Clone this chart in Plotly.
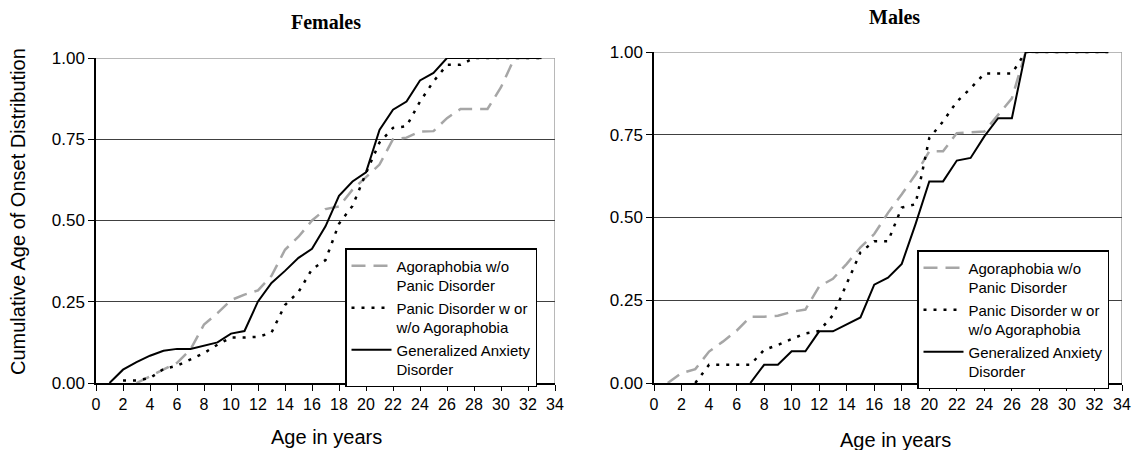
import plotly.graph_objects as go

# ---------------- data ----------------
f_agora_age = list(range(3, 34))
f_agora = [0.0, 0.02, 0.041, 0.062, 0.103, 0.18, 0.215, 0.255, 0.272, 0.285, 0.33, 0.41, 0.45,
           0.5, 0.535, 0.543, 0.595, 0.635, 0.672, 0.75, 0.755, 0.774, 0.775, 0.815, 0.843,
           0.843, 0.843, 0.91, 1.0, 1.0, 1.0]
f_panic_age = list(range(2, 34))
f_panic = [0.008, 0.008, 0.015, 0.043, 0.053, 0.072, 0.092, 0.118, 0.14, 0.14, 0.142, 0.155,
           0.24, 0.28, 0.35, 0.378, 0.49, 0.545, 0.646, 0.74, 0.785, 0.79, 0.866, 0.928,
           0.979, 0.979, 1.0, 1.0, 1.0, 1.0, 1.0, 1.0]
f_gad_age = list(range(1, 34))
f_gad = [0.0, 0.041, 0.064, 0.084, 0.099, 0.105, 0.105, 0.115, 0.125, 0.152, 0.16, 0.251,
         0.308, 0.345, 0.385, 0.413, 0.482, 0.576, 0.62, 0.648, 0.779, 0.841, 0.866, 0.931,
         0.954, 1.0, 1.0, 1.0, 1.0, 1.0, 1.0, 1.0, 1.0]

m_agora_age = list(range(1, 34))
m_agora = [0.0, 0.03, 0.042, 0.095, 0.125, 0.158, 0.2, 0.2, 0.203, 0.215, 0.222, 0.292, 0.315,
           0.36, 0.41, 0.45, 0.514, 0.57, 0.63, 0.7, 0.7, 0.755, 0.757, 0.76, 0.81, 0.86,
           1.0, 1.0, 1.0, 1.0, 1.0, 1.0, 1.0]
m_panic_age = list(range(3, 34))
m_panic = [0.0, 0.055, 0.055, 0.055, 0.055, 0.1, 0.115, 0.133, 0.15, 0.157, 0.205, 0.3, 0.395,
           0.428, 0.428, 0.53, 0.54, 0.74, 0.79, 0.85, 0.89, 0.935, 0.935, 0.935, 1.0, 1.0,
           1.0, 1.0, 1.0, 1.0, 1.0]
m_gad_age = list(range(7, 34))
m_gad = [0.0, 0.055, 0.055, 0.096, 0.096, 0.156, 0.156, 0.176, 0.198, 0.297, 0.318, 0.36, 0.48,
         0.609, 0.609, 0.672, 0.68, 0.745, 0.80, 0.80, 1.0, 1.0, 1.0, 1.0, 1.0, 1.0, 1.0]

names = ["Agoraphobia w/o<br>Panic Disorder",
         "Panic Disorder w or<br>w/o Agoraphobia",
         "Generalized Anxiety<br>Disorder"]
x_ticks = list(range(0, 35, 2))
y_ticks = [0, 0.25, 0.5, 0.75, 1.0]

# ---------------- figure ----------------
W, H = 1134, 450
SANS = "Liberation Sans, Arial, sans-serif"
SERIF = "Liberation Serif, Times New Roman, serif"

styles = [dict(color="#a6a6a6", width=2.5, dash="14px,8px"),
          dict(color="black", width=2.5, dash="3px,7px"),
          dict(color="black", width=2)]

fig = go.Figure()
female = [(f_agora_age, f_agora), (f_panic_age, f_panic), (f_gad_age, f_gad)]
male = [(m_agora_age, m_agora), (m_panic_age, m_panic), (m_gad_age, m_gad)]
for i, (x, y) in enumerate(female):
    fig.add_trace(go.Scatter(x=x, y=y, mode="lines", name=names[i], line=styles[i],
                             xaxis="x", yaxis="y", legend="legend"))
for i, (x, y) in enumerate(male):
    fig.add_trace(go.Scatter(x=x, y=y, mode="lines", name=names[i], line=styles[i],
                             xaxis="x2", yaxis="y2", legend="legend2"))

def px_x(p):
    return p / W

def px_y(p):
    return 1 - p / H

axis_common = dict(showline=True, linecolor="black", linewidth=1.5, ticks="outside",
                   ticklen=6, tickcolor="black", tickwidth=1.2, zeroline=False,
                   automargin=False)
xcommon = dict(axis_common, range=[0, 34], tickvals=x_ticks, showgrid=False,
               ticklabeloverflow="allow",
               tickfont=dict(family=SANS, size=16, color="black"))
ycommon = dict(axis_common, range=[0, 1], tickvals=y_ticks, tickformat=".2f",
               showgrid=True, gridcolor="#404040", gridwidth=1,
               tickfont=dict(family=SANS, size=17, color="black"))

legend_common = dict(bgcolor="white", bordercolor="black", borderwidth=1.5,
                     font=dict(family=SANS, size=15, color="black"),
                     xanchor="left", yanchor="top", valign="top",
                     tracegroupgap=0, itemwidth=40)

fig.update_layout(
    width=W, height=H, margin=dict(l=0, r=0, t=0, b=0, autoexpand=False),
    paper_bgcolor="white", plot_bgcolor="white", showlegend=True,
    xaxis=dict(xcommon, domain=[px_x(96), px_x(555)], anchor="y"),
    yaxis=dict(ycommon, domain=[px_y(383), px_y(58)], anchor="x"),
    xaxis2=dict(xcommon, domain=[px_x(654), px_x(1122)], anchor="y2"),
    yaxis2=dict(ycommon, domain=[px_y(383), px_y(52)], anchor="x2"),
    legend=dict(legend_common, x=px_x(345), y=px_y(248)),
    legend2=dict(legend_common, x=px_x(917), y=px_y(250)),
)

# gray plot-area border on top and right
for xa, ya in [("x", "y"), ("x2", "y2")]:
    fig.add_shape(type="line", xref=xa, yref=ya, x0=0, x1=34, y0=1, y1=1,
                  line=dict(color="#a0a0a0", width=1.5), layer="below")
    fig.add_shape(type="line", xref=xa, yref=ya, x0=34, x1=34, y0=0, y1=1,
                  line=dict(color="#a0a0a0", width=1.5), layer="below")

ann = [
    dict(text="<b>Females</b>", x=px_x(326), y=px_y(22), font=dict(family=SERIF, size=20)),
    dict(text="<b>Males</b>", x=px_x(894), y=px_y(17), font=dict(family=SERIF, size=20)),
    dict(text="Age in years", x=px_x(326), y=px_y(437), font=dict(family=SANS, size=20)),
    dict(text="Age in years", x=px_x(895), y=px_y(440), font=dict(family=SANS, size=20)),
    dict(text="Cumulative Age of Onset Distribution", x=px_x(18), y=px_y(212),
         textangle=-90, font=dict(family=SANS, size=20)),
]
for a in ann:
    fig.add_annotation(xref="paper", yref="paper", showarrow=False,
                       xanchor="center", yanchor="middle",
                       **{k: v for k, v in a.items() if k != "font"},
                       font=dict(a["font"], color="black"))

fig.write_html(
    "out.html",
    config={"displayModeBar": False},
    post_script="document.body.style.margin='0';document.body.style.padding='0';"
                "document.documentElement.style.overflow='hidden';",
)
